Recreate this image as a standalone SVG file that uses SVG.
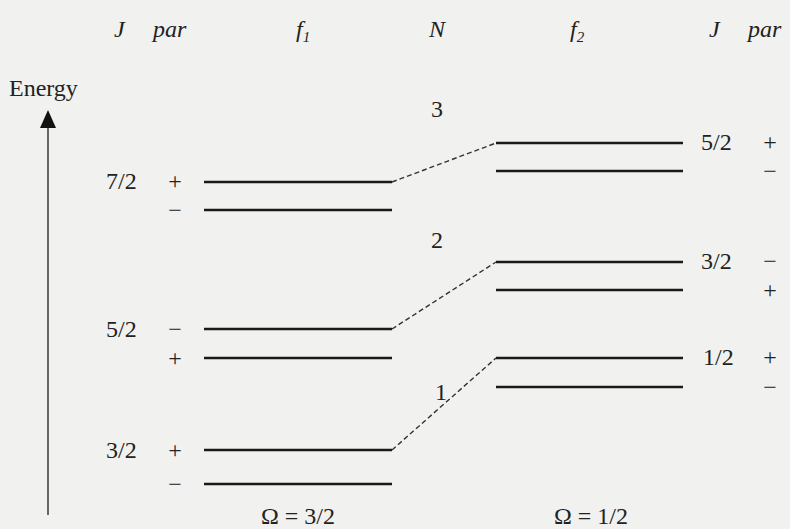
<svg xmlns="http://www.w3.org/2000/svg" width="790" height="529" viewBox="0 0 790 529">
<defs>
<style>
.t{font-family:"Liberation Serif","Times New Roman",serif;font-size:24px;fill:#222}
.i{font-style:italic}
.m{text-anchor:middle}
.lv{stroke:#1a1a1a;stroke-width:2.6;fill:none}
.d{stroke:#333;stroke-width:1.4;stroke-dasharray:5,3;fill:none}
</style>
</defs>
<rect width="790" height="529" fill="#f1f1ef"/>
<g id="headers">
<text class="t i" x="114" y="37">J</text>
<text class="t i" x="153" y="37">par</text>
<text class="t i" x="296" y="37">f<tspan font-size="15" dy="5">1</tspan></text>
<text class="t i" x="429" y="37">N</text>
<text class="t i" x="570" y="37">f<tspan font-size="15" dy="5">2</tspan></text>
<text class="t i" x="709" y="37">J</text>
<text class="t i" x="748" y="37">par</text>
</g>
<g id="energy-axis">
<text class="t" x="9" y="96">Energy</text>
<line x1="48" y1="515" x2="48" y2="124" stroke="#444" stroke-width="1.6"/>
<polygon points="48,110 40,128 56,128" fill="#111"/>
</g>
<g id="f1-levels">
<line class="lv" x1="204" y1="182" x2="392" y2="182"/>
<line class="lv" x1="204" y1="210" x2="392" y2="210"/>
<line class="lv" x1="204" y1="329" x2="392" y2="329"/>
<line class="lv" x1="204" y1="358" x2="392" y2="358"/>
<line class="lv" x1="204" y1="450" x2="392" y2="450"/>
<line class="lv" x1="204" y1="484" x2="392" y2="484"/>
<text class="t" x="106" y="189">7/2</text>
<text class="t m" x="175" y="189">+</text>
<text class="t m" x="175" y="218">−</text>
<text class="t" x="106" y="337">5/2</text>
<text class="t m" x="175" y="337">−</text>
<text class="t m" x="175" y="366">+</text>
<text class="t" x="106" y="458">3/2</text>
<text class="t m" x="175" y="458">+</text>
<text class="t m" x="175" y="492">−</text>
<text class="t m" x="298" y="524">Ω = 3/2</text>
</g>
<g id="f2-levels">
<line class="lv" x1="496" y1="143" x2="683" y2="143"/>
<line class="lv" x1="496" y1="171" x2="683" y2="171"/>
<line class="lv" x1="496" y1="262" x2="683" y2="262"/>
<line class="lv" x1="496" y1="290" x2="683" y2="290"/>
<line class="lv" x1="496" y1="358" x2="683" y2="358"/>
<line class="lv" x1="496" y1="387" x2="683" y2="387"/>
<text class="t" x="701" y="150">5/2</text>
<text class="t m" x="770" y="150">+</text>
<text class="t m" x="770" y="179">−</text>
<text class="t" x="701" y="269">3/2</text>
<text class="t m" x="770" y="269">−</text>
<text class="t m" x="770" y="298">+</text>
<text class="t" x="703" y="365">1/2</text>
<text class="t m" x="770" y="365">+</text>
<text class="t m" x="770" y="395">−</text>
<text class="t m" x="591" y="524">Ω = 1/2</text>
</g>
<g id="N-labels">
<text class="t" x="431" y="117">3</text>
<text class="t" x="431" y="248">2</text>
<text class="t" x="435" y="400">1</text>
</g>
<g id="connectors">
<line class="d" x1="392" y1="182" x2="496" y2="143"/>
<line class="d" x1="392" y1="329" x2="496" y2="262"/>
<line class="d" x1="392" y1="450" x2="496" y2="358"/>
</g>
</svg>
